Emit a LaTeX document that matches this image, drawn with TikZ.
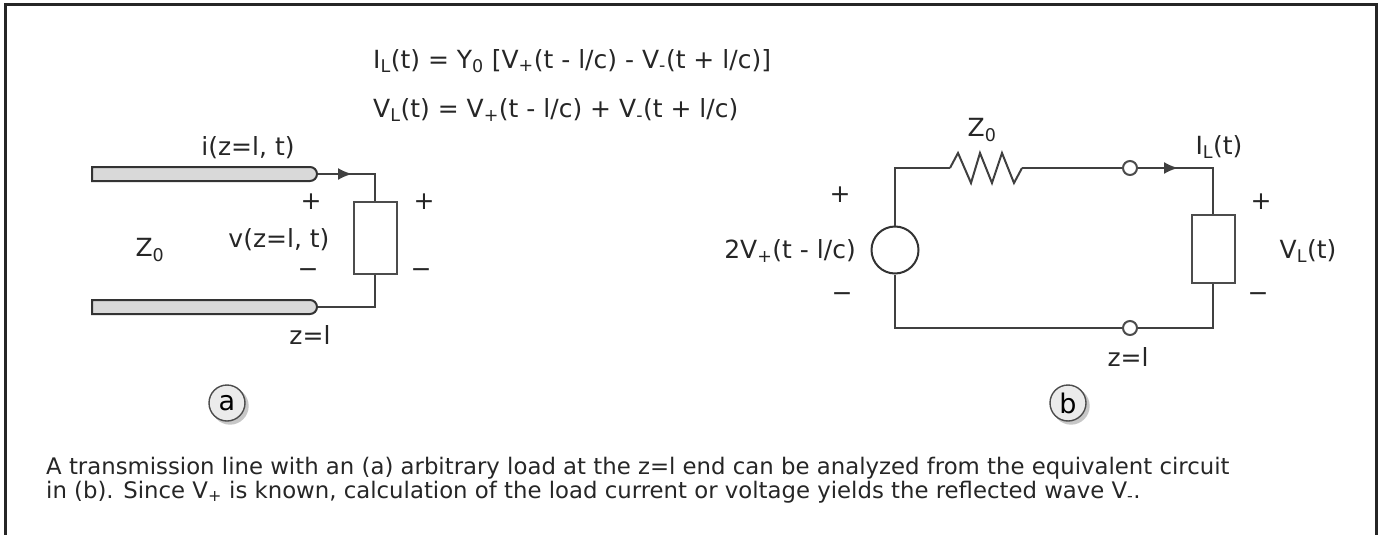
\documentclass[tikz,border=0pt]{standalone}
\usepackage{fontspec}
\setmainfont{DejaVu Sans}
\usetikzlibrary{positioning,arrows.meta,shapes.misc,shadows}
\newcommand{\sub}[1]{\textsubscript{#1}}
\begin{document}
\begin{tikzpicture}[x=1pt,y=-1pt,
  labelnode/.style={inner sep=0pt, text=black!85, font=\fontsize{25}{28}\selectfont},
  cablenode/.style={rounded rectangle, rounded rectangle west arc=none, draw=black!80, fill=black!15, line width=2pt, minimum width=225pt, minimum height=14pt, inner sep=0pt},
  loadnode/.style={rectangle, draw=black!70, line width=2pt, fill=white, inner sep=0pt},
  portnode/.style={circle, draw=black!70, line width=2pt, fill=white, minimum size=14pt, inner sep=0pt},
  tagnode/.style={circle, draw=black!70, line width=1.4pt, fill=black!8, minimum size=36pt, inner sep=0pt, font=\fontsize{27}{28}\selectfont, copy shadow={shadow xshift=3pt, shadow yshift=-3pt, draw=black!22, fill=black!22}},
  wire/.style={draw=black!75, line width=2pt},
  arrowwire/.style={wire, -{Latex[length=14pt,width=12pt]}}]

\useasboundingbox (0,0) rectangle (1381,535);
\draw[black!85, line width=3pt] (5,535) -- (5,5) -- (1376,5) -- (1376,535);

%Equations
\node[labelnode, anchor=west] (eq1) at (373,61) {I\sub{L}(t) = Y\sub{0} [V\sub{+}(t - l/c) - V\sub{-}(t + l/c)]};
\node[labelnode, anchor=west] (eq2) at (373,110) {V\sub{L}(t) = V\sub{+}(t - l/c) + V\sub{-}(t + l/c)};

%Nodes (a)
\node[cablenode] (cable1) at (204.5,174) {};
\node[cablenode] (cable2) at (204.5,307) {};
\node[loadnode, minimum width=43pt, minimum height=72pt] (load1) at (375,238) {};
\coordinate (arrow1) at (352,174);
\node[labelnode] (current1) at (248,148) {i(z=l, t)};
\node[labelnode] (volt1) at (279,240) {v(z=l, t)};
\node[labelnode] (line1) at (150,250) {Z\sub{0}};
\node[labelnode] (end1) at (310,335) {z=l};
\node[labelnode] (plus1) at (311,202) {+};
\node[labelnode] (plus2) at (424,202) {+};
\node[labelnode] (minus1) at (308,273) {−};
\node[labelnode] (minus2) at (421,273) {−};
\node[tagnode] (tag1) at (227,403) {a};

%line (a)
\draw[wire] (cable1.east) -| (load1.north);
\draw[arrowwire] (cable1.east) -- (arrow1);
\draw[wire] (cable2.east) -| (load1.south);

%Nodes (b)
\node[circle, draw=black!80, line width=2pt, fill=white, minimum size=47pt, inner sep=0pt] (source1) at (895,250) {};
\node[loadnode, minimum width=43pt, minimum height=68pt] (load2) at (1213,249) {};
\node[portnode] (port1) at (1130,168) {};
\node[portnode] (port2) at (1130,328) {};
\coordinate (res1) at (950,168);
\coordinate (res2) at (1022,168);
\coordinate (arrow2) at (1178,168);
\node[labelnode] (line2) at (982,130) {Z\sub{0}};
\node[labelnode] (current2) at (1219,147) {I\sub{L}(t)};
\node[labelnode] (volt2) at (1308,251) {V\sub{L}(t)};
\node[labelnode] (emf1) at (790,251) {2V\sub{+}(t - l/c)};
\node[labelnode] (end2) at (1128,357) {z=l};
\node[labelnode] (plus3) at (840,195) {+};
\node[labelnode] (plus4) at (1261,202) {+};
\node[labelnode] (minus3) at (842,297) {−};
\node[labelnode] (minus4) at (1258,297) {−};
\node[tagnode] (tag2) at (1068,403) {b};

%line (b)
\draw[wire] (source1.north) |- (res1);
\draw[wire] (res1) -- ++(8,-15) -- ++(13,30) -- ++(9,-30) -- ++(12,30) -- ++(10,-30) -- ++(12,30) -- (res2);
\draw[wire] (res2) -- (port1.west);
\draw[wire] (port1.east) -| (load2.north);
\draw[arrowwire] (port1.east) -- (arrow2);
\draw[wire] (load2.south) |- (port2.east);
\draw[wire] (port2.west) -| (source1.south);

%Caption
\node[labelnode, font=\fontsize{22.8}{24}\selectfont, anchor=north west, align=left] (caption1) at (46,457) {A transmission line with an (a) arbitrary load at the z=l end can be analyzed from the equivalent circuit\\in (b). Since V\sub{+} is known, calculation of the load current or voltage yields the reflected wave V\sub{-}.};

\end{tikzpicture}
\end{document}
